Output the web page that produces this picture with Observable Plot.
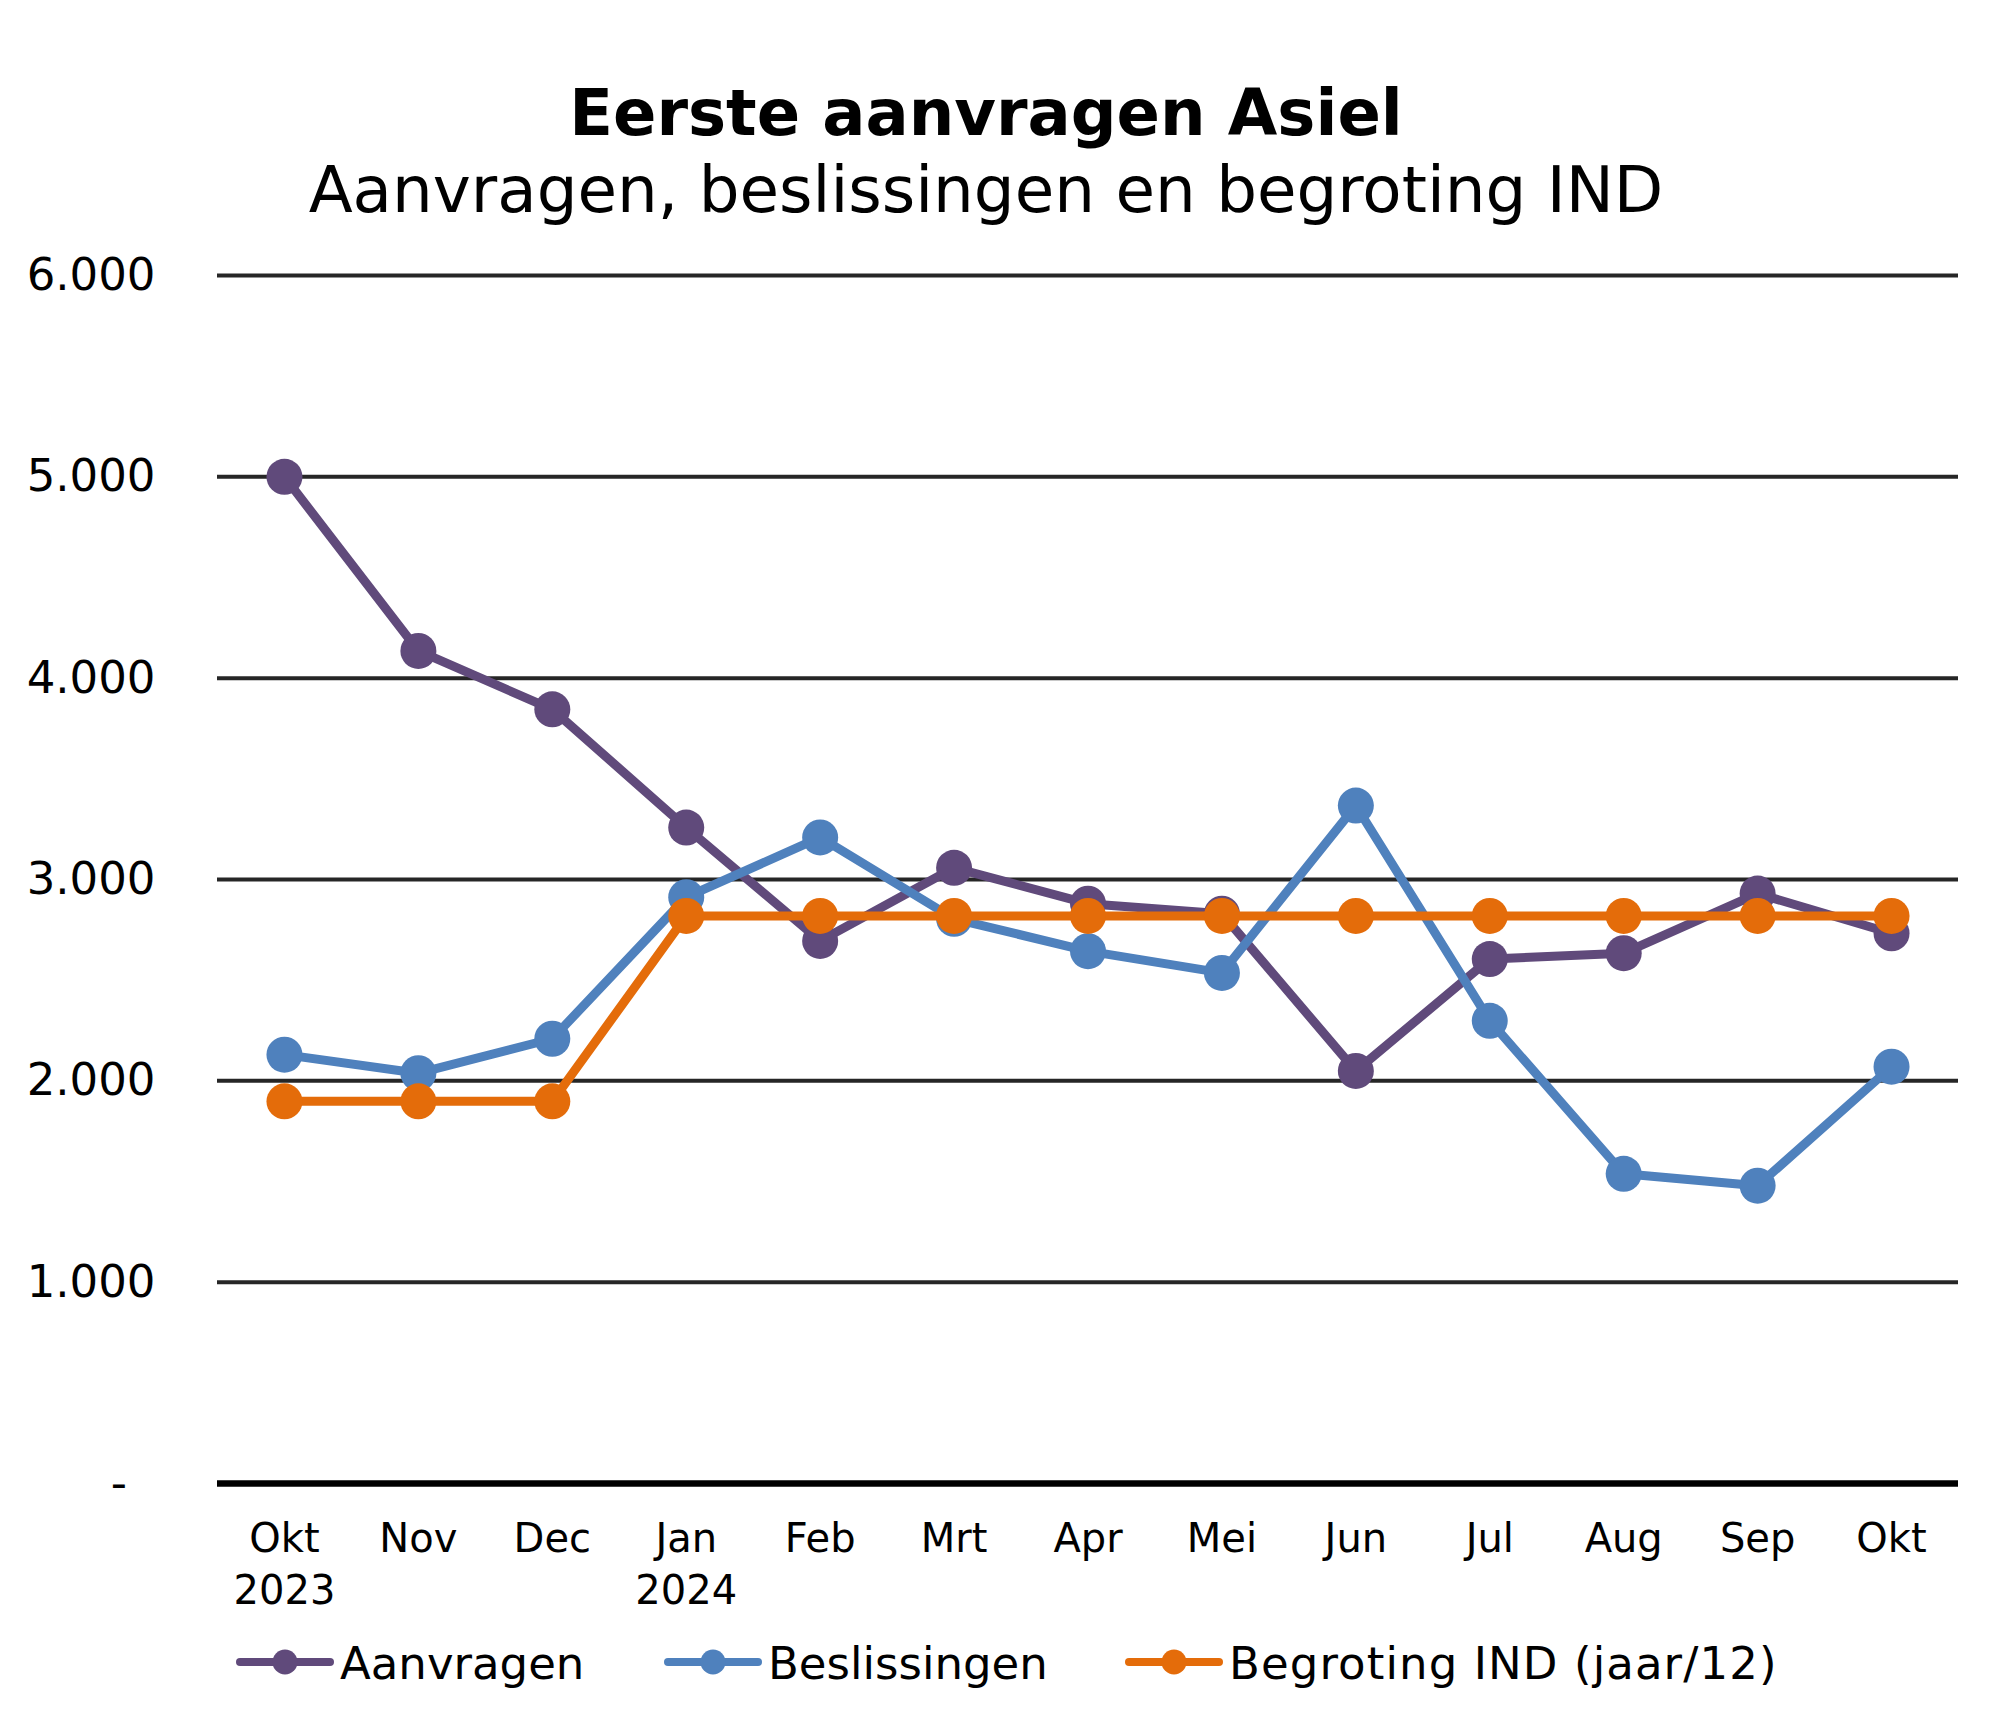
<!DOCTYPE html>
<html>
<head>
<meta charset="utf-8">
<script src="https://cdn.jsdelivr.net/npm/d3@7"></script>
<script src="https://cdn.jsdelivr.net/npm/@observablehq/plot@0.6"></script>
<style>
  html, body { margin: 0; padding: 0; background: #fff; }
  body { font-family: "DejaVu Sans", Verdana, sans-serif; color: #000; }
  #wrap { position: relative; width: 2009px; height: 1731px; overflow: hidden; }
  #title, #subtitle { position: absolute; left: 0; width: 1972px; text-align: center; line-height: 64px; white-space: nowrap; }
  #title { top: 81px; font-weight: bold; font-size: 64px; }
  #subtitle { top: 158px; font-size: 64.3px; }
  #chart { position: absolute; left: 0; top: 240px; }
  .lg-item { position: absolute; top: 1641px; height: 45px; font-size: 45px; line-height: 45px; white-space: nowrap; }
  .lg-item svg { position: absolute; top: 0; }
  .lg-item span { position: absolute; top: 0; }
</style>
</head>
<body>
<div id="wrap">
  <div id="title">Eerste aanvragen Asiel</div>
  <div id="subtitle">Aanvragen, beslissingen en begroting IND</div>
  <div id="chart"></div>
  <div id="legend"></div>
</div>
<script>
// ---- data ----
const monthLabels = ["Okt\n2023", "Nov", "Dec", "Jan\n2024", "Feb", "Mrt", "Apr", "Mei", "Jun", "Jul", "Aug", "Sep", "Okt"];
const aanvragen    = [5000, 4135, 3845, 3258, 2695, 3058, 2880, 2830, 2049, 2605, 2634, 2930, 2733];
const beslissingen = [2130, 2038, 2209, 2912, 3209, 2805, 2644, 2536, 3367, 2298, 1538, 1479, 2070];
const begroting    = [1898, 1898, 1898, 2819, 2819, 2819, 2819, 2819, 2819, 2819, 2819, 2819, 2819];
const seriesNames  = ["Aanvragen", "Beslissingen", "Begroting IND (jaar/12)"];
const seriesColors = ["#604A7B", "#4F81BD", "#E46C0A"];
const yTicks = [0, 1000, 2000, 3000, 4000, 5000, 6000];

// ---- build table ----
const seriesValues = [aanvragen, beslissingen, begroting];
const series = seriesValues.map((vals, s) => vals.map((v, i) => ({i, v, s: seriesNames[s]})));

const fmtY = d => d === 0 ? "-\u00a0\u00a0" : d3.format(",")(d).replace(/,/g, ".");

const marks = [
  Plot.ruleY(yTicks.filter(d => d > 0), {stroke: "#262626", strokeWidth: 4}),
  Plot.ruleY([0], {stroke: "#000", strokeWidth: 6.5}),
  Plot.axisY({ticks: yTicks, tickSize: 0, tickPadding: 62, tickFormat: fmtY, label: null, fontSize: 45, fill: "#000"}),
  Plot.axisX({tickSize: 0, tickPadding: 32, tickFormat: i => monthLabels[i], label: null, fontSize: 40, lineHeight: 1.29, fill: "#000"})
];
series.forEach((data, s) => {
  marks.push(Plot.line(data, {x: "i", y: "v", stroke: seriesColors[s], strokeWidth: 9, strokeLinejoin: "round", strokeLinecap: "round"}));
  marks.push(Plot.dot(data, {x: "i", y: "v", r: 18, fill: seriesColors[s], stroke: "none"}));
});

const chart = Plot.plot({
  width: 2009,
  height: 1385,
  marginTop: 35,
  marginBottom: 142,
  marginLeft: 217,
  marginRight: 51,
  style: {fontFamily: "'DejaVu Sans', Verdana, sans-serif", fontSize: "45px", color: "#000", background: "#fff", overflow: "visible"},
  x: {type: "point", domain: d3.range(monthLabels.length), padding: 0.5, round: false, axis: null},
  y: {domain: [0, 6000], axis: null},
  marks
});
document.getElementById("chart").appendChild(chart);

// ---- legend ----
const legendLeft = [234, 662, 1123];
const legendSpacing = [0, 0, 1.1];
const legend = document.getElementById("legend");
seriesNames.forEach((name, s) => {
  const item = document.createElement("div");
  item.className = "lg-item";
  item.style.left = legendLeft[s] + "px";
  item.innerHTML =
    `<svg width="104" height="45" style="left:0"><line x1="6" x2="96" y1="21" y2="21" stroke="${seriesColors[s]}" stroke-width="8" stroke-linecap="round"/>` +
    `<circle cx="51" cy="21" r="12.5" fill="${seriesColors[s]}"/></svg>` +
    `<span style="left:106px;letter-spacing:${legendSpacing[s]}px">${name}</span>`;
  legend.appendChild(item);
});
</script>
</body>
</html>
